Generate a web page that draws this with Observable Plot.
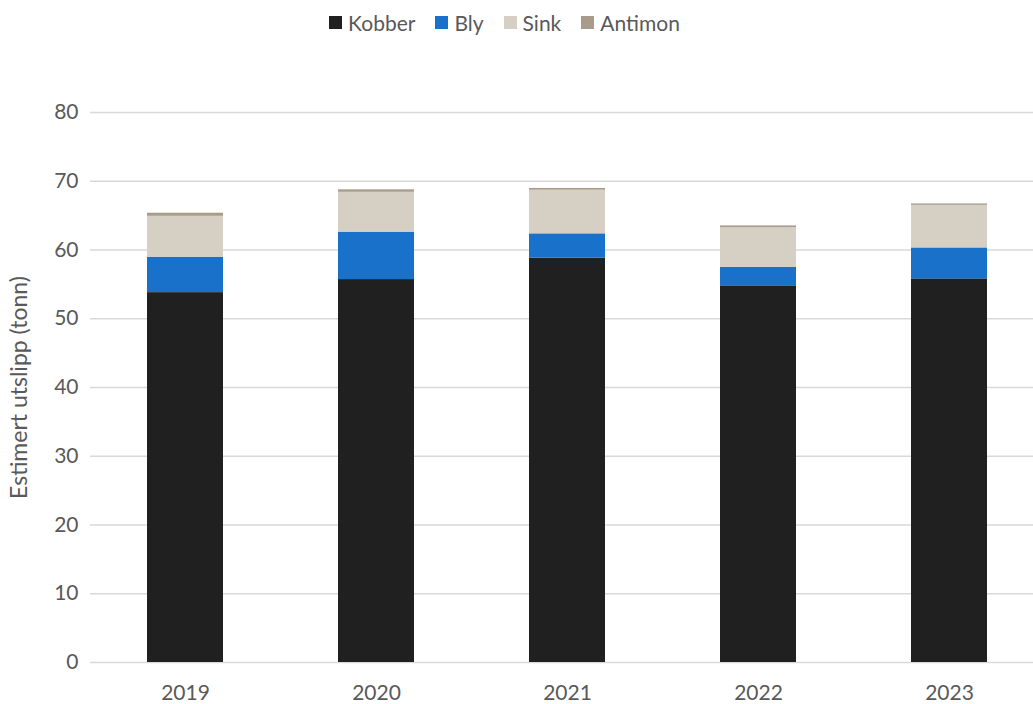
<!DOCTYPE html>
<html>
<head>
<meta charset="utf-8">
<script src="https://cdn.jsdelivr.net/npm/d3@7"></script>
<script src="https://cdn.jsdelivr.net/npm/@observablehq/plot@0.6"></script>
<style>
  html, body { margin: 0; padding: 0; background: #fff; overflow: hidden; }
  #legend { height: 44px; display: flex; justify-content: center; align-items: center; padding-right: 24px; box-sizing: border-box;
            font-family: Lato, "Open Sans", sans-serif; font-size: 21px; color: #595959; }
  #legend .item { display: flex; align-items: center; margin: 0 10px; }
  #legend .sw { width: 13px; height: 13px; margin-right: 6px; }
</style>
</head>
<body>
<div id="legend"></div>
<div id="chart"></div>
<script>
const years = ["2019", "2020", "2021", "2022", "2023"];
const metals = ["Kobber", "Bly", "Sink", "Antimon"];
const kobber = [53.8, 55.7, 58.8, 54.7, 55.8];
const bly = [5.15, 6.9, 3.55, 2.8, 4.5];
const sink = [5.95, 5.8, 6.35, 5.75, 6.2];
const antimon = [0.45, 0.35, 0.25, 0.25, 0.2];
const colors = ["#202020", "#1a71c9", "#d6cfc4", "#a89b8a"];
const yTicks = [0, 10, 20, 30, 40, 50, 60, 70, 80];

const series = { Kobber: kobber, Bly: bly, Sink: sink, Antimon: antimon };
const data = [];
years.forEach((y, i) => metals.forEach(m => data.push({ year: y, metal: m, value: series[m][i] })));

// legend
const leg = document.getElementById("legend");
metals.forEach((m, i) => {
  const it = document.createElement("div");
  it.className = "item";
  const sw = document.createElement("div");
  sw.className = "sw";
  sw.style.background = colors[i];
  const t = document.createElement("span");
  t.textContent = m;
  it.appendChild(sw); it.appendChild(t);
  leg.appendChild(it);
});

const chart = Plot.plot({
  width: 1033,
  height: 660,
  marginTop: 68,
  marginBottom: 42,
  marginLeft: 90,
  marginRight: 0,
  style: { fontFamily: "Lato, 'Open Sans', sans-serif", fontSize: "21px", color: "#595959", background: "#fff" },
  x: { type: "band", domain: years, range: [89.7, 1045.6], paddingInner: 0.6, paddingOuter: 0.3 },
  y: { domain: [0, 80] },
  color: { domain: metals, range: colors },
  marks: [
    Plot.ruleY(yTicks, { stroke: "#d9d9d9", strokeWidth: 1.5 }),
    Plot.barY(data, { x: "year", y: "value", fill: "metal", order: metals }),
    Plot.axisX({ tickSize: 0, tickPadding: 23, label: null }),
    Plot.axisY({ ticks: yTicks, tickSize: 0, tickPadding: 12, label: null }),
    Plot.axisY({ ticks: [], tickSize: 0, fontSize: 23, label: "Estimert utslipp (tonn)", labelAnchor: "center", labelArrow: "none", labelOffset: 80 })
  ]
});
document.getElementById("chart").appendChild(chart);
</script>
</body>
</html>
